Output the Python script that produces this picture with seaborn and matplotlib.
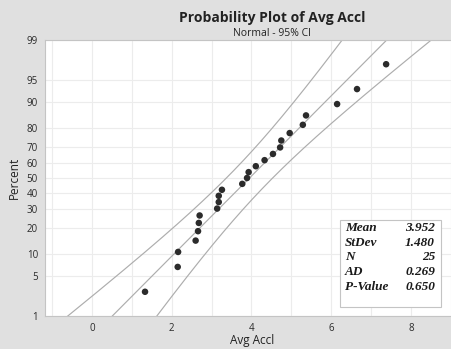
import numpy as np
import pandas as pd
import matplotlib
matplotlib.use("Agg")
import matplotlib.pyplot as plt
from matplotlib.patches import Rectangle
from matplotlib.ticker import FixedLocator, NullLocator
import seaborn as sns
from statistics import NormalDist

# Observed average acceleration values (sorted)
avg_accl = [1.33, 2.15, 2.16, 2.60, 2.66, 2.68, 2.70, 3.14, 3.18, 3.18,
            3.26, 3.77, 3.89, 3.93, 4.11, 4.33, 4.54, 4.72, 4.75, 4.96,
            5.29, 5.37, 6.15, 6.65, 7.38]

# Summary statistics shown in the legend box
stat_names = ["Mean", "StDev", "N", "AD", "P-Value"]
stat_values = ["3.952", "1.480", "25", "0.269", "0.650"]
mean_val = 3.952
sd_val = 1.480
n_obs = 25

percent_ticks = [1, 5, 10, 20, 30, 40, 50, 60, 70, 80, 90, 95, 99]
x_ticks = [0, 2, 4, 6, 8]

nd = NormalDist()
_ppf = np.vectorize(nd.inv_cdf, otypes=[float])
_cdf = np.vectorize(nd.cdf, otypes=[float])


def to_z(p):
    p = np.clip(np.asarray(p, dtype=float) / 100.0, 1e-9, 1 - 1e-9)
    return _ppf(p)


def from_z(z):
    return _cdf(np.asarray(z, dtype=float)) * 100.0


# Median-rank plotting positions (Benard)
ranks = np.arange(1, n_obs + 1)
pct = (ranks - 0.3) / (n_obs + 0.4) * 100.0
pts = pd.DataFrame({"x": np.sort(avg_accl), "pct": pct})

# Fitted line and 95% confidence band
z = np.linspace(-3.2, 3.2, 300)
fit_x = mean_val + z * sd_val
half = 1.96 * sd_val * np.sqrt(1.0 / n_obs + z ** 2 / (2.0 * n_obs))
band = pd.DataFrame({"pct": from_z(z), "fit": fit_x,
                     "lo": fit_x - half, "hi": fit_x + half})

sns.set_style("white")
W, H = 452, 349
ax_w = (W - 45) / W + 0.02
fig = plt.figure(figsize=(W / 100, H / 100), dpi=100, facecolor="#e0e0e0")
ax = fig.add_axes([45 / W, (H - 316) / H, ax_w, (316 - 40) / H])
ax.set_facecolor("white")
ax.set_yscale("function", functions=(to_z, from_z))

line_col = "#adadad"
for col in ["lo", "fit", "hi"]:
    sns.lineplot(data=band, x=col, y="pct", sort=False, estimator=None,
                 color=line_col, linewidth=0.85, ax=ax, zorder=2)

sns.scatterplot(data=pts, x="x", y="pct", color="#2b2b2b", s=22,
                edgecolor="none", ax=ax, zorder=3)

ax.set_xlim(-1.18, 9.26)
ax.set_ylim(1, 99)
ax.yaxis.set_major_locator(FixedLocator(percent_ticks))
ax.yaxis.set_minor_locator(NullLocator())
ax.set_yticklabels([str(t) for t in percent_ticks])
ax.xaxis.set_major_locator(FixedLocator(x_ticks))
ax.xaxis.set_minor_locator(FixedLocator(np.arange(-1, 10, 1)))

ax.grid(True, which="major", color="#ececec", linewidth=0.8)
ax.grid(True, which="minor", axis="x", color="#ececec", linewidth=0.8)
ax.set_axisbelow(True)

ax.tick_params(axis="both", which="major", length=3, width=0.6,
               color="#888888", pad=2, labelsize=7, labelcolor="#2a2a2a")
ax.tick_params(axis="x", which="minor", length=0)
for lab in ax.get_xticklabels() + ax.get_yticklabels():
    lab.set_fontfamily("Open Sans")

for side in ["top", "right", "left", "bottom"]:
    ax.spines[side].set_color("#c4c4c4")
    ax.spines[side].set_linewidth(0.8)

ax.set_xlabel("Avg Accl", fontfamily="Open Sans", fontsize=8.5,
              color="#222222", labelpad=3)
ax.xaxis.set_label_coords((252 - 45) / (ax_w * W), -0.065)
ax.set_ylabel("Percent", fontfamily="Open Sans", fontsize=8.5,
              color="#222222")
ax.yaxis.set_label_coords(-(45 - 21) / (ax_w * W), 0.5)

fig.text(272 / W, 1 - 18 / H, "Probability Plot of Avg Accl",
         fontfamily="Open Sans", fontweight="bold", fontsize=10,
         color="#222222", ha="center", va="center")
fig.text(272 / W, 1 - 33 / H, "Normal - 95% CI",
         fontfamily="Open Sans", fontsize=7.5, color="#222222",
         ha="center", va="center")

# Statistics legend box
box = Rectangle((340 / W, 1 - 307 / H), 101 / W, 87 / H,
                transform=fig.transFigure, facecolor="white",
                edgecolor="#c4c4c4", linewidth=0.8, zorder=5)
fig.patches.append(box)
row_y = [228, 243, 257, 272, 287]
for name, val, yy in zip(stat_names, stat_values, row_y):
    fig.text(345 / W, 1 - yy / H, name, fontfamily="Liberation Serif",
             fontstyle="italic", fontweight="bold", fontsize=9.5,
             color="#1a1a1a", ha="left", va="center", zorder=6)
    fig.text(435 / W, 1 - yy / H, val, fontfamily="Liberation Serif",
             fontstyle="italic", fontweight="bold", fontsize=9.5,
             color="#1a1a1a", ha="right", va="center", zorder=6)

fig.savefig("out.png", dpi=100, facecolor=fig.get_facecolor())
